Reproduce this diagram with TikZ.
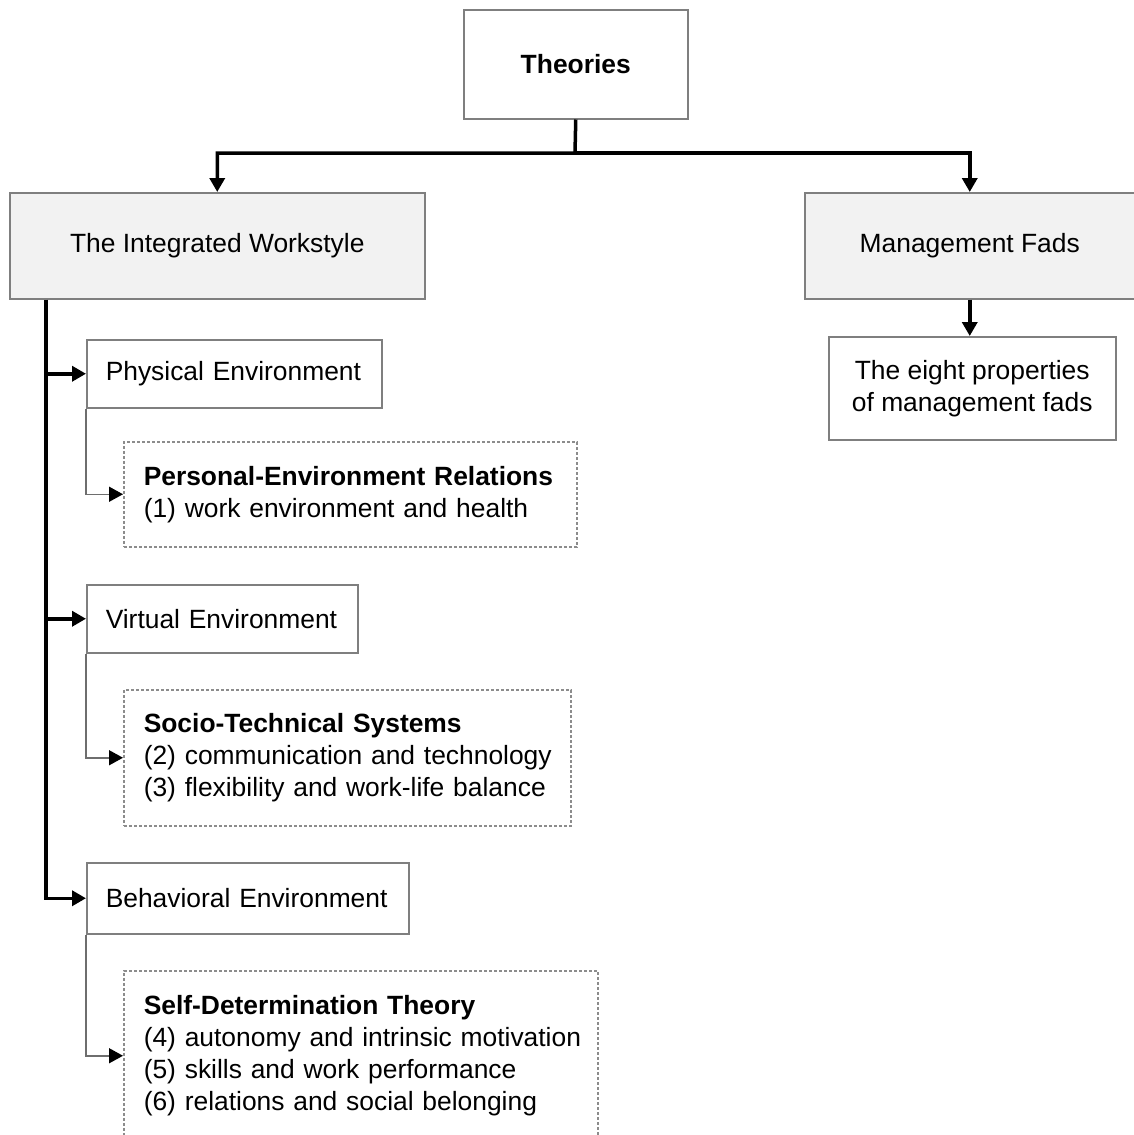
\documentclass[tikz,border=0pt]{standalone}
\usepackage{fontspec}
\setmainfont{Liberation Sans}
\usetikzlibrary{arrows.meta}

\definecolor{boxgray}{HTML}{7F7F7F}
\definecolor{dashgray}{HTML}{8C8C8C}
\definecolor{boxfill}{HTML}{F2F2F2}
\definecolor{linegray}{HTML}{6E6E6E}

\begin{document}
\begin{tikzpicture}[x=0.5pt, y=-0.5pt,
  font=\fontsize{13.2}{16}\selectfont,
  box/.style={draw=boxgray, line width=0.75pt, anchor=north west, inner sep=0pt},
  graybox/.style={box, fill=boxfill},
  envbox/.style={box, inner xsep=9.5pt, align=left},
  theorybox/.style={box, draw=dashgray, dash pattern=on 1.5pt off 1pt, inner xsep=10pt, align=left},
  mainarrow/.style={line width=1.75pt, -{Triangle[length=7pt,width=7.5pt]}},
  subarrow/.style={draw=linegray, line width=0.75pt, -{Triangle[length=7pt,width=7.5pt,color=black]}}]
\useasboundingbox (0,0) rectangle (1134,1135);

% top level
\node[box, minimum width=112pt, minimum height=54.5pt] (theo) at (463,9) {\textbf{Theories}};
\node[graybox, minimum width=207.5pt, minimum height=53pt] (integ) at (9,192) {The Integrated Workstyle};
\node[graybox, minimum width=165pt, minimum height=53pt] (mgmt) at (804,192) {Management Fads};
\node[box, minimum width=143.5pt, minimum height=51.5pt, align=center] (eight) at (828,336)
     {The eight properties\\of management fads};

% environments
\node[envbox, text width=128.5pt, minimum height=34pt] (phys) at (86,339) {Physical Environment};
\node[envbox, text width=116.5pt, minimum height=34pt] (virt) at (86,584) {Virtual Environment};
\node[envbox, text width=142pt, minimum height=35.5pt] (behav) at (86,862) {Behavioral Environment};

% theories per environment
\node[theorybox, text width=206.5pt, minimum height=52.5pt] (pers) at (123,441)
     {\mbox{\textbf{Personal-Environment Relations}}\\\mbox{(1) work environment and health}};
\node[theorybox, text width=203.5pt, minimum height=68pt] (socio) at (123,689)
     {\mbox{\textbf{Socio-Technical Systems}}\\\mbox{(2) communication and technology}\\\mbox{(3) flexibility and work-life balance}};
\node[theorybox, text width=217pt, minimum height=85pt] (selfdet) at (123,970)
     {\mbox{\textbf{Self-Determination Theory}}\\\mbox{(4) autonomy and intrinsic motivation}\\\mbox{(5) skills and work performance}\\\mbox{(6) relations and social belonging}};

\coordinate (split) at (575,153);
\coordinate (trunk) at ([xshift=18.5pt]integ.south west);

\draw[mainarrow] (theo.south) -- (split) -| (integ.north);
\draw[mainarrow] (split) -| (mgmt.north);
\draw[mainarrow] (mgmt.south) -- (mgmt.south |- eight.north);

\draw[mainarrow] (trunk) |- (behav.west);
\draw[mainarrow] (trunk |- phys.west) -- (phys.west);
\draw[mainarrow] (trunk |- virt.west) -- (virt.west);

\draw[subarrow] (phys.south west) |- (pers.west);
\draw[subarrow] (virt.south west) |- (socio.west);
\draw[subarrow] (behav.south west) |- (selfdet.west);
\end{tikzpicture}
\end{document}
